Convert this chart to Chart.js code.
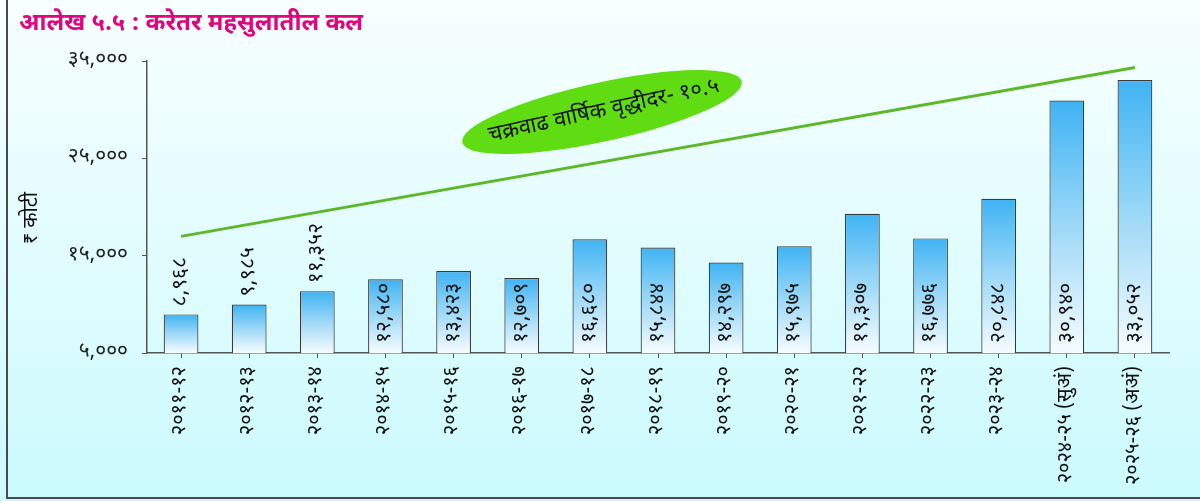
<!DOCTYPE html>
<html>
<head>
<meta charset="utf-8">
<script src="https://cdn.jsdelivr.net/npm/chart.js@4.4.1/dist/chart.umd.min.js"></script>
<style>
  html, body { margin: 0; padding: 0; background: #ffffff; }
  #wrap { width: 1200px; height: 501px; }
</style>
</head>
<body>
<div id="wrap"><canvas id="chart" width="1200" height="501"></canvas></div>
<script>
// Non-tax revenue by year (₹ crore)
const categories = [
  '२०११-१२', '२०१२-१३', '२०१३-१४', '२०१४-१५', '२०१५-१६',
  '२०१६-१७', '२०१७-१८', '२०१८-१९', '२०१९-२०', '२०२०-२१',
  '२०२१-२२', '२०२२-२३', '२०२३-२४', '२०२४-२५ (सुअं)', '२०२५-२६ (अअं)'
];
const revenue = [8968, 9985, 11352, 12580, 13423, 12709, 16680, 15844, 14297, 15975, 19307, 16776, 20848, 30940, 33052];
const yTickValues = [5000, 15000, 25000, 35000];
// Growth trend line end points
const trendStart = 16980;
const trendEnd = 34340;
const trendLine = categories.map((_, i) => i === 0 ? trendStart : (i === categories.length - 1 ? trendEnd : null));

const titleText = 'आलेख ५.५ : करेतर महसुलातील कल';
const yTitleText = '₹ कोटी';
const growthText = 'चक्रवाढ वार्षिक वृद्धीदर- १०.५';

const FONT = "'Noto Sans Devanagari', 'Noto Sans', 'Lohit Devanagari', 'Noto Sans CJK SC', sans-serif";
const devDigits = ['०','१','२','३','४','५','६','७','८','९'];
function toDev(n) {
  const s = Math.round(n).toString().replace(/\B(?=(\d{3})+(?!\d))/g, ',');
  return s.replace(/\d/g, d => devDigits[+d]);
}

const backdrop = {
  id: 'backdrop',
  beforeDraw(chart) {
    const { ctx, width, height } = chart;
    ctx.save();
    const g = ctx.createLinearGradient(0, 0, 0, height);
    g.addColorStop(0, '#f8ffff');
    g.addColorStop(1, '#cbfafd');
    ctx.fillStyle = g;
    ctx.fillRect(0, 0, width, height);
    // frame on left and bottom
    ctx.strokeStyle = '#4a4a4a';
    ctx.lineWidth = 2;
    ctx.beginPath();
    ctx.moveTo(7, 0);
    ctx.lineTo(7, 498);
    ctx.lineTo(width, 498);
    ctx.stroke();
    // title
    ctx.fillStyle = '#e2037e';
    ctx.font = 'bold 24px ' + FONT;
    ctx.textBaseline = 'alphabetic';
    ctx.textAlign = 'left';
    ctx.fillText(titleText, 19, 30);
    // y-axis title
    ctx.translate(33, 218);
    ctx.rotate(-Math.PI / 2);
    ctx.fillStyle = '#111';
    ctx.font = '20px ' + FONT;
    ctx.textAlign = 'center';
    ctx.textBaseline = 'middle';
    ctx.fillText(yTitleText, 0, 0);
    ctx.restore();
  }
};

const growthBadge = {
  id: 'growthBadge',
  afterDatasetsDraw(chart) {
    const { ctx } = chart;
    ctx.save();
    ctx.translate(602, 112);
    ctx.rotate(-12.3 * Math.PI / 180);
    ctx.beginPath();
    ctx.ellipse(0, 0, 143, 29.5, 0, 0, Math.PI * 2);
    ctx.fillStyle = '#5fdc12';
    ctx.fill();
    ctx.fillStyle = '#111';
    ctx.font = '22px ' + FONT;
    ctx.textAlign = 'center';
    ctx.textBaseline = 'middle';
    ctx.fillText(growthText, 2, 1);
    ctx.restore();
  }
};

// value labels, rotated, inside the bar base or just above short bars
const barValueLabels = {
  id: 'barValueLabels',
  afterDatasetsDraw(chart) {
    const { ctx } = chart;
    const xs = chart.scales.x;
    const ys = chart.scales.y;
    ctx.save();
    ctx.font = '21px ' + FONT;
    ctx.fillStyle = '#111';
    ctx.textBaseline = 'middle';
    ctx.textAlign = 'left';
    revenue.forEach((v, i) => {
      const txt = toDev(v);
      const w = ctx.measureText(txt).width;
      const cx = xs.getPixelForValue(i);
      const top = ys.getPixelForValue(v);
      const base = ys.getPixelForValue(ys.min);
      const startY = (base - top >= w + 10) ? base - 10 : top - 8;
      ctx.save();
      ctx.translate(cx + 1, startY);
      ctx.rotate(-Math.PI / 2);
      ctx.fillText(txt, 0, 0);
      ctx.restore();
    });
    ctx.restore();
  }
};

function barGradient(context) {
  const chart = context.chart;
  const y = chart.scales && chart.scales.y;
  if (!y || !chart.chartArea) return '#52b9f0';
  const v = context.raw;
  const top = y.getPixelForValue(v);
  const base = y.getPixelForValue(y.min);
  const g = chart.ctx.createLinearGradient(0, top, 0, base);
  g.addColorStop(0, '#3fb3f3');
  g.addColorStop(0.55, '#a6dcf8');
  g.addColorStop(1, '#f6fcff');
  return g;
}

new Chart(document.getElementById('chart'), {
  type: 'bar',
  data: {
    labels: categories,
    datasets: [
      {
        type: 'bar',
        label: 'करेतर महसूल',
        data: revenue,
        backgroundColor: barGradient,
        borderColor: '#3a3a3a',
        borderWidth: 1.2,
        barPercentage: 0.51,
        categoryPercentage: 1.0,
        order: 2
      },
      {
        type: 'line',
        label: 'कल',
        data: trendLine,
        spanGaps: true,
        borderColor: '#5db829',
        borderWidth: 3,
        pointRadius: 0,
        fill: false,
        tension: 0,
        order: 1
      }
    ]
  },
  options: {
    responsive: false,
    animation: false,
    devicePixelRatio: 1,
    layout: { padding: { left: 0, top: 61, right: 31, bottom: 0 } },
    plugins: {
      legend: { display: false },
      title: { display: false },
      tooltip: { enabled: false }
    },
    scales: {
      x: {
        grid: { display: true, drawOnChartArea: false, offset: false, tickLength: 5, color: '#555', tickColor: '#555' },
        border: { display: true, color: '#555', width: 1.5 },
        ticks: {
          maxRotation: 90,
          minRotation: 90,
          autoSkip: false,
          padding: 8,
          color: '#111',
          font: { family: FONT, size: 20 }
        },
        afterFit(scale) { scale.height = 148; }
      },
      y: {
        min: 5000,
        max: 35000,
        grid: { display: true, drawOnChartArea: false, tickLength: 5, color: '#555', tickColor: '#555' },
        border: { display: true, color: '#555', width: 1.5 },
        afterBuildTicks(scale) { scale.ticks = yTickValues.map(v => ({ value: v })); },
        ticks: {
          padding: 14,
          color: '#222',
          font: { family: FONT, size: 21 },
          callback: v => toDev(v)
        },
        afterFit(scale) { scale.width = 147; }
      }
    }
  },
  plugins: [backdrop, barValueLabels, growthBadge]
});
</script>
</body>
</html>
